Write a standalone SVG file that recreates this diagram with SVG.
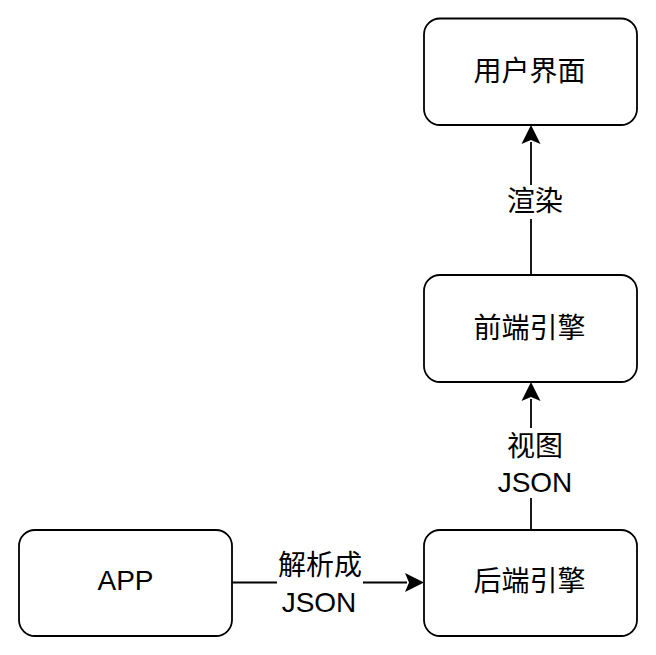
<svg xmlns="http://www.w3.org/2000/svg" width="656" height="655" viewBox="0 0 656 655">
<style>
.box{fill:#fff;stroke:#000;stroke-width:1.8}
.t{font-family:"Liberation Sans","Noto Sans CJK SC",sans-serif;font-size:28px;fill:#000;text-anchor:middle}
.edge{fill:none;stroke:#000;stroke-width:1.8}
.lbg{fill:#fff}
.head{fill:#000}
</style>
<rect width="656" height="655" fill="#fff"/>
<g id="connectors">
<g id="e1">
<line class="edge" x1="531" y1="275" x2="531" y2="142"/>
<polygon class="head" points="531,125 540.5,144 531,140 521.5,144"/>
<rect class="lbg" x="503" y="185" width="64" height="34"/>
<text class="t" x="535" y="211">渲染</text>
</g>
<g id="e2">
<line class="edge" x1="531" y1="530" x2="531" y2="399"/>
<polygon class="head" points="531,382 540.5,401 531,397 521.5,401"/>
<rect class="lbg" x="496" y="428" width="78" height="70"/>
<text class="t" x="535" y="456">视图</text>
<text class="t" x="535" y="492">JSON</text>
</g>
<g id="e3">
<line class="edge" x1="232" y1="582.5" x2="407" y2="582.5"/>
<polygon class="head" points="424,582.5 405,592 409,582.5 405,573"/>
<rect class="lbg" x="277" y="548" width="86" height="68"/>
<text class="t" x="320" y="575">解析成</text>
<text class="t" x="319" y="612">JSON</text>
</g>
</g>
<g id="ui">
<rect class="box" x="424" y="18.5" width="213" height="106.5" rx="16"/>
<text class="t" x="529.5" y="81">用户界面</text>
</g>
<g id="frontend">
<rect class="box" x="424" y="275" width="213" height="107" rx="16"/>
<text class="t" x="529.5" y="338">前端引擎</text>
</g>
<g id="backend">
<rect class="box" x="424" y="530" width="213" height="106" rx="16"/>
<text class="t" x="529.5" y="591">后端引擎</text>
</g>
<g id="app">
<rect class="box" x="19" y="530" width="213" height="106" rx="16"/>
<text class="t" x="125.5" y="590">APP</text>
</g>
</svg>
